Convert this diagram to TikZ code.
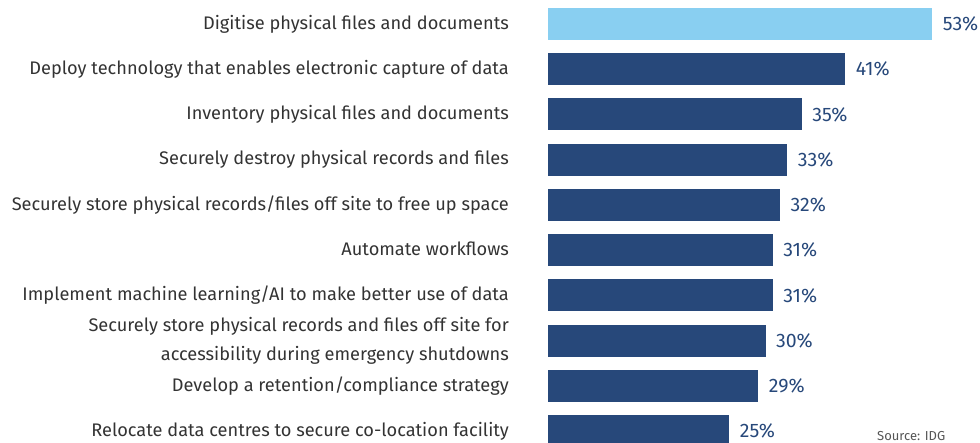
\documentclass[tikz,border=0pt]{standalone}
\usepackage{fontspec}
\setmainfont{Fira Sans}
\usepackage{xcolor}
\usetikzlibrary{positioning}

\definecolor{barblue}{HTML}{27487A}
\definecolor{skyblue}{HTML}{89CFF1}
\definecolor{labgrey}{HTML}{333333}
\definecolor{srcgrey}{HTML}{555555}
\newcommand{\lstrut}{\rule[-4pt]{0pt}{17pt}}

\tikzset{
  hbar/.style={draw=none, inner sep=0pt, minimum height=32pt, anchor=west},
  catlab/.style={text=labgrey, font=\fontsize{18.2}{29}\selectfont, inner sep=0pt, align=right, anchor=east},
  pctlab/.style={text=barblue, font=\fontsize{19.5}{23}\selectfont, inner sep=0pt}
}

\begin{document}
\begin{tikzpicture}[x=1pt, y=-1pt]
    \useasboundingbox (0,0) rectangle (980,443);

    % Bars, categories and values
    \foreach \val/\col/\txt [count=\i] in {
        53/skyblue/{Digitise physical files and documents},
        41/barblue/{Deploy technology that enables electronic capture of data},
        35/barblue/{Inventory physical files and documents},
        33/barblue/{Securely destroy physical records and files},
        32/barblue/{Securely store physical records/files off site to free up space},
        31/barblue/{Automate workflows},
        31/barblue/{Implement machine learning/AI to make better use of data},
        30/barblue/{Securely store physical records and files off site for\\\lstrut accessibility during emergency shutdowns},
        29/barblue/{Develop a retention/compliance strategy},
        25/barblue/{Relocate data centres to secure co-location facility}} {
        \pgfmathsetmacro{\ypos}{24 + 45.25*(\i-1)}
        \pgfmathsetmacro{\wid}{7.25*\val}
        \node[hbar, fill=\col, minimum width=\wid pt] (bar\i) at (548,\ypos) {};
        \node[catlab, left=39pt of bar\i.west] (lab\i) {\lstrut\txt};
        \node[pctlab, right=10pt of bar\i.east] (pct\i) {\val\%};
    }

    % Source note
    \node[font=\fontsize{13}{15}\selectfont, text=srcgrey, inner sep=0pt, anchor=base west] (src) at (877,440) {Source: IDG};
\end{tikzpicture}
\end{document}
